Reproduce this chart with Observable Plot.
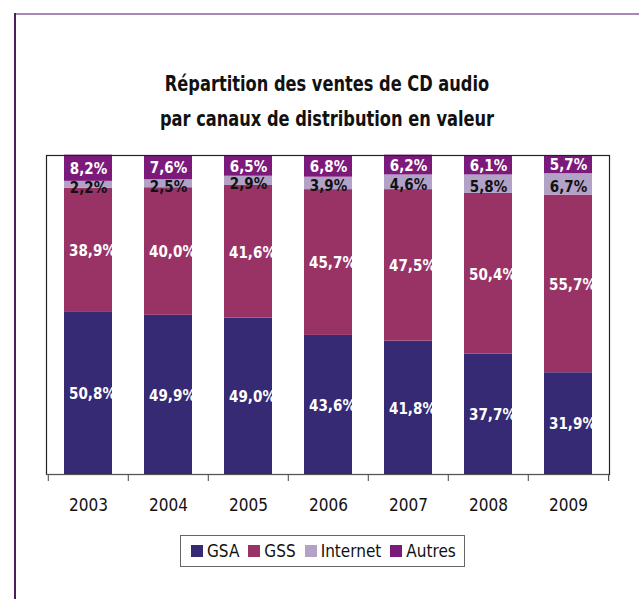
<!DOCTYPE html>
<html>
<head>
<meta charset="utf-8">
<script src="https://cdn.jsdelivr.net/npm/d3@7"></script>
<script src="https://cdn.jsdelivr.net/npm/@observablehq/plot@0.6"></script>
<style>
  html, body { margin: 0; padding: 0; background: #fff; }
  body { width: 639px; height: 599px; position: relative; overflow: hidden;
         font-family: "DejaVu Sans Condensed", "Liberation Sans Narrow", "Roboto", sans-serif; }
  #frameLeft { position: absolute; left: 14px; top: 13px; width: 2px; height: 586px; background: #4b1f5e; }
  #frameTop { position: absolute; left: 14px; top: 13px; width: 625px; height: 2px; background: #a888b8; }
  #title { position: absolute; left: 0; width: 654px; top: 66px; text-align: center;
           font-weight: bold; font-size: 22px; line-height: 35px; color: #111;
           transform: scaleX(0.82); transform-origin: 327px 0; }
  #chart { position: absolute; left: 0; top: 0; }
  #legend { position: absolute; left: 180px; top: 535px; width: 285px; height: 32px;
            border: 1px solid #666; box-sizing: border-box; display: flex; align-items: center;
            font-size: 17px; color: #111; }
  .item { display: flex; align-items: center; margin-left: 9px; }
  .item:first-child { margin-left: 10px; }
  .sw { width: 12px; height: 12px; margin-right: 4px; }
</style>
</head>
<body>
<div id="frameTop"></div>
<div id="frameLeft"></div>
<div id="title">Répartition des ventes de CD audio<br>par canaux de distribution en valeur</div>
<div id="chart"></div>
<div id="legend"></div>
<script>
const years = ["2003", "2004", "2005", "2006", "2007", "2008", "2009"];
const series = ["GSA", "GSS", "Internet", "Autres"];
const colors = ["#362a74", "#993366", "#b3a2c8", "#7b1a7b"];
const gsa = [50.8, 49.9, 49.0, 43.6, 41.8, 37.7, 31.9];
const gss = [38.9, 40.0, 41.6, 45.7, 47.5, 50.4, 55.7];
const internet = [2.2, 2.5, 2.9, 3.9, 4.6, 5.8, 6.7];
const autres = [8.2, 7.6, 6.5, 6.8, 6.2, 6.1, 5.7];

const valuesBySeries = {GSA: gsa, GSS: gss, Internet: internet, Autres: autres};
const data = [];
years.forEach((y, i) => {
  series.forEach(s => data.push({year: y, series: s, value: valuesBySeries[s][i]}));
});
const fmt = v => v.toFixed(1).replace(".", ",") + "%";

const W = 639, H = 520, ML = 46, MR = 30, MT = 155, MB = 46;
const step = (W - ML - MR) / years.length;

const stackOpts = (extra) => Plot.stackY({x: "year", y: "value", z: "series", order: series, ...extra});
const font = '"DejaVu Sans Condensed", "Liberation Sans Narrow", sans-serif';

const plot = Plot.plot({
  width: W, height: H,
  marginLeft: ML, marginRight: MR, marginTop: MT, marginBottom: MB,
  style: {fontFamily: font, fontSize: "17px", color: "#111", background: "transparent"},
  x: {domain: years, paddingInner: 0.4, paddingOuter: 0.2, label: null, tickSize: 0, tickPadding: 24},
  y: {domain: [0, 100], axis: null},
  color: {domain: series, range: colors},
  marks: [
    Plot.barY(data, stackOpts({fill: "series"})),
    Plot.text(data, stackOpts({
      text: d => d.series === "GSA" || d.series === "GSS" ? fmt(d.value) : "",
      fill: "white", fontWeight: "bold", fontSize: 15, dx: 4, dy: 1
    })),
    Plot.text(data, stackOpts({
      text: d => d.series === "Autres" ? fmt(d.value) : "",
      fill: "white", fontWeight: "bold", fontSize: 15, dy: 1
    })),
    Plot.text(data, stackOpts({
      text: d => d.series === "Internet" ? fmt(d.value) : "",
      fill: "#111", fontWeight: "bold", fontSize: 15, dy: 3
    })),
    Plot.frame({stroke: "#222", strokeWidth: 1.2}),
    Plot.ruleX(years, {x: d => d, y1: 0, y2: 0, insetBottom: -7, dx: -step / 2, stroke: "#444"}),
    Plot.ruleX([years[years.length - 1]], {x: d => d, y1: 0, y2: 0, insetBottom: -7, dx: step / 2, stroke: "#222"}),
    Plot.ruleY([0], {stroke: "#555", strokeWidth: 1.2})
  ]
});
document.getElementById("chart").appendChild(plot);

const legend = document.getElementById("legend");
series.forEach((s, i) => {
  const it = document.createElement("div");
  it.className = "item";
  it.innerHTML = `<div class="sw" style="background:${colors[i]}"></div><span>${s}</span>`;
  legend.appendChild(it);
});
</script>
</body>
</html>
